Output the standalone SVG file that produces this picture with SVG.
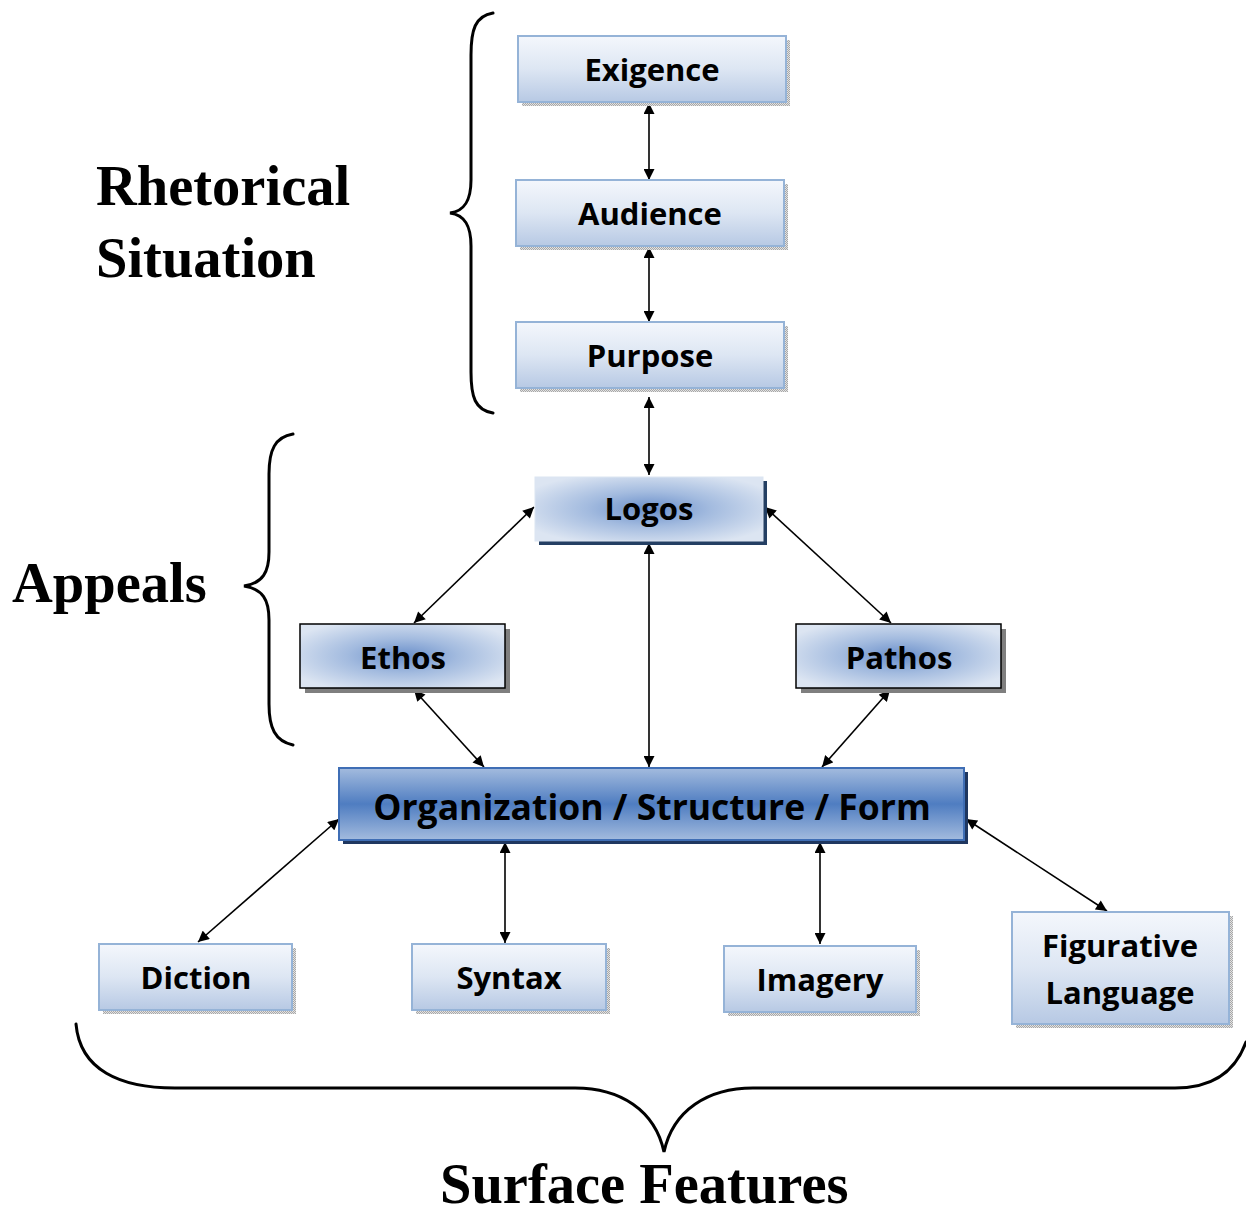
<svg xmlns="http://www.w3.org/2000/svg" width="1246" height="1216" viewBox="0 0 1246 1216">
<defs>
<linearGradient id="gTop" x1="0" y1="0" x2="0" y2="1">
<stop offset="0" stop-color="#F4F7FC"/><stop offset="0.5" stop-color="#DDE6F3"/><stop offset="1" stop-color="#B7C9E4"/>
</linearGradient>
<radialGradient id="gMid" cx="0.5" cy="0.5" r="0.6">
<stop offset="0" stop-color="#6A8FCA"/><stop offset="0.45" stop-color="#A3BBDF"/><stop offset="1" stop-color="#DCE5F2"/>
</radialGradient>
<linearGradient id="gOrg" x1="0" y1="0" x2="0" y2="1">
<stop offset="0" stop-color="#A3BBDE"/><stop offset="0.5" stop-color="#4F7DC1"/><stop offset="1" stop-color="#A3BBDE"/>
</linearGradient>
<pattern id="dots" width="2" height="2" patternUnits="userSpaceOnUse">
<rect width="2" height="2" fill="#E2E2E2"/><rect width="1" height="1" fill="#A8A8A8"/><rect x="1" y="1" width="1" height="1" fill="#A8A8A8"/>
</pattern>
<marker id="ah" viewBox="0 0 10 10" refX="10" refY="5" markerWidth="12" markerHeight="11" markerUnits="userSpaceOnUse" orient="auto-start-reverse">
<path d="M0,0 L10,5 L0,10 z" fill="#000"/>
</marker>
<style>
.lbl{font-family:"Open Sans","Liberation Sans",sans-serif;font-weight:bold;font-size:31px;fill:#000;text-anchor:middle}
.head{font-family:"Liberation Serif","DejaVu Serif",serif;font-weight:bold;font-size:56.5px;fill:#000}
.top{fill:url(#gTop);stroke:#95B3D7;stroke-width:2}
.mid{fill:url(#gMid);stroke:#000;stroke-width:1.5}
.sh{fill:url(#dots)}
.brace{fill:none;stroke:#000;stroke-width:3;stroke-linecap:round}
.con line{stroke:#000;stroke-width:1.6;marker-start:url(#ah);marker-end:url(#ah)}
</style>
</defs>
<rect width="1246" height="1216" fill="#fff"/>

<g id="headings">
<text class="head" x="96" y="205">Rhetorical</text>
<text class="head" x="96" y="277">Situation</text>
<text class="head" x="12" y="602">Appeals</text>
<text class="head" x="440" y="1203">Surface Features</text>
</g>

<g id="braces">
<path class="brace" d="M493,13 C475,16 471,30 471,55 L471,180 C471,200 465,211 450,213 C465,215 471,226 471,246 L471,372 C471,397 475,410 493,413"/>
<path class="brace" d="M293,434 C275,437 269,450 269,474 L269,552 C269,572 263,583 244,586 C263,589 269,600 269,620 L269,704 C269,728 275,741 293,745"/>
<path class="brace" d="M76,1024 C80,1070 120,1088 175,1088 L575,1088 C620,1088 655,1110 664,1152 C673,1110 708,1088 753,1088 L1175,1088 C1215,1088 1236,1070 1246,1042"/>
</g>

<g id="connectors" class="con">
<line x1="649" y1="103" x2="649" y2="180"/>
<line x1="649" y1="247" x2="649" y2="322"/>
<line x1="649" y1="397" x2="649" y2="475"/>
<line x1="534" y1="507" x2="414" y2="623"/>
<line x1="765" y1="507" x2="891" y2="623"/>
<line x1="649" y1="543" x2="649" y2="767"/>
<line x1="414" y1="690" x2="484" y2="767"/>
<line x1="890" y1="690" x2="822" y2="767"/>
<line x1="339" y1="819" x2="198" y2="942"/>
<line x1="505" y1="842" x2="505" y2="943"/>
<line x1="820" y1="842" x2="820" y2="944"/>
<line x1="966" y1="819" x2="1107" y2="911"/>
</g>

<g id="exigence">
<rect class="sh" x="522" y="40" width="268" height="66"/>
<rect class="top" x="518" y="36" width="268" height="66"/>
<text class="lbl" x="652" y="81">Exigence</text>
</g>
<g id="audience">
<rect class="sh" x="520" y="184" width="268" height="66"/>
<rect class="top" x="516" y="180" width="268" height="66"/>
<text class="lbl" x="650" y="225">Audience</text>
</g>
<g id="purpose">
<rect class="sh" x="520" y="326" width="268" height="66"/>
<rect class="top" x="516" y="322" width="268" height="66"/>
<text class="lbl" x="650" y="367">Purpose</text>
</g>
<g id="logos">
<rect x="539" y="481" width="228" height="64" fill="#243F63"/>
<rect x="535" y="477" width="228" height="64" fill="url(#gMid)" stroke="#DCE5F2" stroke-width="1"/>
<text class="lbl" x="649" y="520">Logos</text>
</g>
<g id="ethos">
<rect x="305" y="629" width="205" height="64" fill="#7F7F7F"/>
<rect class="mid" x="300" y="624" width="205" height="64"/>
<text class="lbl" x="403" y="669">Ethos</text>
</g>
<g id="pathos">
<rect x="801" y="629" width="205" height="64" fill="#7F7F7F"/>
<rect class="mid" x="796" y="624" width="205" height="64"/>
<text class="lbl" x="899" y="669">Pathos</text>
</g>
<g id="organization">
<rect x="343" y="772" width="625" height="72" fill="#1F3760"/>
<rect x="339" y="768" width="625" height="72" fill="url(#gOrg)" stroke="#3F6EB5" stroke-width="2"/>
<text class="lbl" x="652" y="820" style="font-size:35.5px">Organization / Structure / Form</text>
</g>
<g id="diction">
<rect class="sh" x="103" y="948" width="193" height="66"/>
<rect class="top" x="99" y="944" width="193" height="66"/>
<text class="lbl" x="196" y="989">Diction</text>
</g>
<g id="syntax">
<rect class="sh" x="416" y="948" width="194" height="66"/>
<rect class="top" x="412" y="944" width="194" height="66"/>
<text class="lbl" x="509" y="989">Syntax</text>
</g>
<g id="imagery">
<rect class="sh" x="728" y="950" width="192" height="66"/>
<rect class="top" x="724" y="946" width="192" height="66"/>
<text class="lbl" x="820" y="991">Imagery</text>
</g>
<g id="figurative">
<rect class="sh" x="1016" y="916" width="217" height="112"/>
<rect class="top" x="1012" y="912" width="217" height="112"/>
<text class="lbl" x="1120" y="957">Figurative</text>
<text class="lbl" x="1120" y="1004">Language</text>
</g>
</svg>
